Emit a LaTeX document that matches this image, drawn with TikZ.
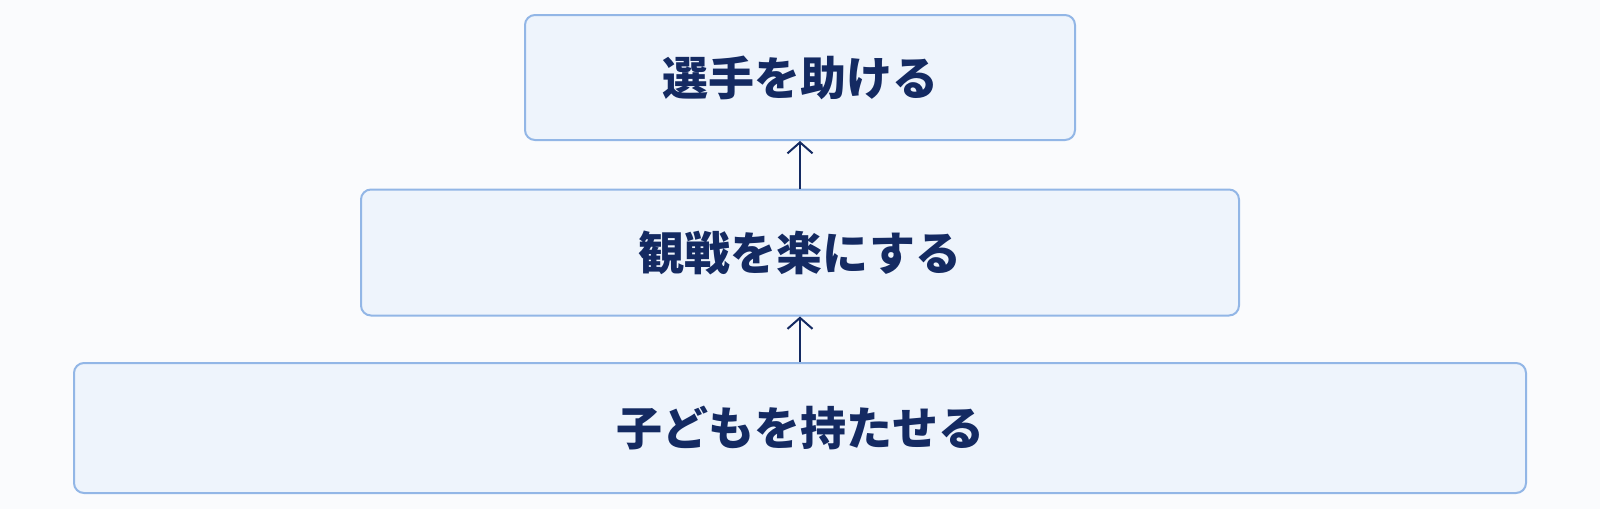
\documentclass[tikz,border=0pt]{standalone}
\usepackage{fontspec}
\newfontfamily\cjk{Noto Sans CJK JP}
\usetikzlibrary{arrows.meta}
\definecolor{bgc}{HTML}{FAFBFD}
\definecolor{boxfill}{HTML}{EEF4FC}
\definecolor{boxline}{HTML}{92B6E6}
\definecolor{navy}{HTML}{142A62}
\tikzset{
  level/.style={draw=boxline, fill=boxfill, line width=2pt, rounded corners=10pt,
    font=\cjk\bfseries\fontsize{46}{52}\selectfont, text=navy, inner sep=0pt},
  uparrow/.style={draw=navy, line width=2pt, -{Straight Barb[length=11pt,width=25pt,line width=2pt]}}
}
\begin{document}
\begin{tikzpicture}[x=1pt,y=-1pt]
  \fill[bgc] (0,0) rectangle (1600,509);
  \useasboundingbox (0,0) rectangle (1600,509);
  \node[level, minimum width=550pt, minimum height=125pt] (top) at (800,77.5) {選手を助ける};
  \node[level, minimum width=878pt, minimum height=126pt] (mid) at (800,252.5) {観戦を楽にする};
  \node[level, minimum width=1452pt, minimum height=130pt] (bot) at (800,428) {子どもを持たせる};
  \draw[uparrow] (mid.north) -- (top.south);
  \draw[uparrow] (bot.north) -- (mid.south);
\end{tikzpicture}
\end{document}
